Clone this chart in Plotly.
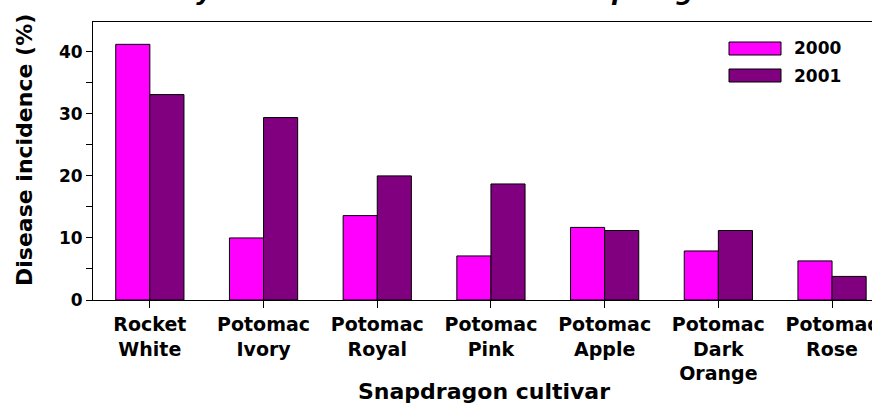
import plotly.graph_objects as go

categories = ["Rocket<br>White", "Potomac<br>Ivory", "Potomac<br>Royal", "Potomac<br>Pink",
              "Potomac<br>Apple", "Potomac<br>Dark<br>Orange", "Potomac<br>Rose"]
years = ["2000", "2001"]
values_2000 = [41.2, 10.0, 13.6, 7.1, 11.7, 7.9, 6.3]
values_2001 = [33.1, 29.4, 20.0, 18.7, 11.2, 11.2, 3.8]
colors = ["#FF00FF", "#800080"]
title_text = "Downy mildew incidence on cut snapdragon"
x_title = "Snapdragon cultivar"
y_title = "Disease incidence (%)"

W, H = 890, 403          # page window is 872 wide; the plot runs past the right edge as in the reference
L, T, B = 93, 22, 103
plot_h = H - T - B
plot_w = W - L
cat_px = 113.7
x_max = -0.5 + plot_w / cat_px

fig = go.Figure()
for name, vals, col in zip(years, [values_2000, values_2001], colors):
    fig.add_trace(go.Bar(x=list(range(len(categories))), y=vals, name=name,
                         marker=dict(color=col, line=dict(color="black", width=1)),
                         showlegend=False))

font = "DejaVu Sans, Liberation Sans, Arial, sans-serif"
fig.update_layout(
    width=W, height=H,
    margin=dict(l=L, r=0, t=T, b=B, autoexpand=False),
    barmode="group", bargap=0.4, bargroupgap=0,
    plot_bgcolor="white", paper_bgcolor="white",
    font=dict(family=font, color="black"),
    xaxis=dict(tickmode="array", tickvals=list(range(len(categories))),
               ticktext=["<b>%s</b>" % c for c in categories],
               range=[-0.5, x_max], showline=True, linecolor="black", linewidth=1,
               ticks="outside", ticklen=7, tickcolor="black", showgrid=False,
               tickfont=dict(size=19, family=font),
               mirror=True),
    yaxis=dict(range=[0, 44.8], dtick=10, showline=True, linecolor="black", linewidth=1,
               ticks="outside", ticklen=6, tickcolor="black", showgrid=False, zeroline=False,
               minor=dict(dtick=5, ticks="outside", ticklen=6, tickcolor="black"),
               tickfont=dict(size=17, family=font), tickprefix="<b>", ticksuffix="</b>"),
)

# axis titles
fig.add_annotation(xref="paper", yref="paper", x=(484 - L) / plot_w, y=1 - (391 - T) / plot_h,
                   xanchor="center", yanchor="middle", text="<b>%s</b>" % x_title,
                   showarrow=False, font=dict(size=22, family=font, color="black"))
fig.add_annotation(xref="paper", yref="paper", x=(24 - L) / plot_w, y=1 - (150 - T) / plot_h,
                   xanchor="center", yanchor="middle", textangle=-90, text="<b>%s</b>" % y_title,
                   showarrow=False, font=dict(size=22, family=font, color="black"))

# custom legend
for i, (name, col) in enumerate(zip(years, colors)):
    y0 = 42 + i * 27
    fig.add_shape(type="rect", xref="paper", yref="paper",
                  x0=(729 - L) / plot_w, x1=(781 - L) / plot_w,
                  y0=1 - (y0 + 13 - T) / plot_h, y1=1 - (y0 - T) / plot_h,
                  fillcolor=col, line=dict(color="black", width=1))
    fig.add_annotation(xref="paper", yref="paper", x=(792 - L) / plot_w,
                       y=1 - (y0 + 6.5 - T) / plot_h, xanchor="left", yanchor="middle",
                       text="<b>%s</b>" % name, showarrow=False,
                       font=dict(size=17, family=font, color="black"))

# title (mostly cut off at top, only descenders show)
fig.add_annotation(xref="paper", yref="paper", x=(423 - L) / plot_w, y=1 + (T - 8) / plot_h,
                   xanchor="center", yanchor="bottom", text="<b><i>%s</i></b>" % title_text,
                   showarrow=False, font=dict(size=24.5, family=font, color="black"))

fig.write_html("out.html", config={"displayModeBar": False},
               post_script="document.body.style.margin='0px';document.body.style.overflow='hidden';")
